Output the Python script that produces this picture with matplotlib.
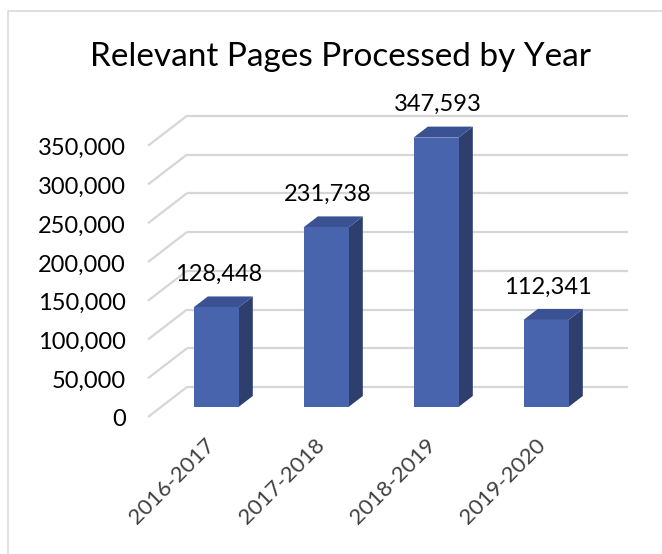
import matplotlib.pyplot as plt
from matplotlib.patches import Polygon

categories = ['2016-2017', '2017-2018', '2018-2019', '2019-2020']
pages = [128448, 231738, 347593, 112341]
grid_values = [0, 50000, 100000, 150000, 200000, 250000, 300000, 350000]

plt.rcParams['font.family'] = ['Lato', 'DejaVu Sans']

W, H = 662, 554
fig = plt.figure(figsize=(W / 100, H / 100), dpi=100)
ax = fig.add_axes([0, 0, 1, 1])
ax.set_axis_off()

# data space: one category = 110 px, 1000 pages = 0.775 px, value 0 at bar base
px_x, px_y = 110.0, 0.000775
x0, y0 = 216, 407
ax.set_xlim(-x0 / px_x, (W - x0) / px_x)
ax.set_ylim(-(H - y0) / px_y, y0 / px_y)

# depth vector (full floor depth) in data units
dvx, dvy = 39 / px_x, 30 / px_y
d_front, d_back = -1 / 3, 2 / 3
d_bar = 0.367
x_left = (148 - x0) / px_x - d_front * dvx
x_right = (628 - x0) / px_x

grid_c = '#d6d6d6'
for v in grid_values:
    ax.plot([x_left + d_front * dvx, x_left + d_back * dvx],
            [v + d_front * dvy, v + d_back * dvy], color=grid_c, lw=1.6, zorder=1,
            solid_capstyle='butt')
    ax.plot([x_left + d_back * dvx, x_right], [v + d_back * dvy] * 2,
            color=grid_c, lw=1.6, zorder=1, solid_capstyle='butt')
    ax.text((126 - x0) / px_x, v + d_front * dvy - 3 / px_y, f'{v:,}', ha='right',
            va='center', fontsize=17, color='black')

bw = 45 / px_x
ox, oy = d_bar * dvx, d_bar * dvy
front_c, side_c, top_c = '#4864AC', '#2E3F6E', '#3A5294'
for i, v in enumerate(pages):
    l, r = i - bw / 2, i + bw / 2
    side = Polygon([(r, 0), (r + ox, oy), (r + ox, v + oy), (r, v)],
                   closed=True, fc=side_c, ec='none', zorder=2)
    top = Polygon([(l, v), (r, v), (r + ox, v + oy), (l + ox, v + oy)],
                  closed=True, fc=top_c, ec='none', zorder=2)
    ax.add_patch(side)
    ax.add_patch(top)
    ax.bar(i, v, width=bw, bottom=0, color=front_c, zorder=3)
    ax.text(i + 0.02, v + oy + 22 / px_y, f'{v:,}', ha='center', va='center',
            fontsize=17, color='black')
    ax.text(i - 11 / px_x, (y0 - 435) / px_y, categories[i], rotation=45,
            rotation_mode='anchor', ha='right', va='top', fontsize=16, color='#404040')

ax.text((341 - x0) / px_x, (y0 - 57) / px_y, 'Relevant Pages Processed by Year',
        ha='center', va='center', fontsize=24, color='black')

# chart frame (left and top edges visible)
ax.plot([(8 - x0) / px_x, (8 - x0) / px_x, (W - x0) / px_x],
        [-(H - y0) / px_y, (y0 - 11) / px_y, (y0 - 11) / px_y],
        color='#d9d9d9', lw=1.2, zorder=0)

fig.savefig('out.png', dpi=100)
